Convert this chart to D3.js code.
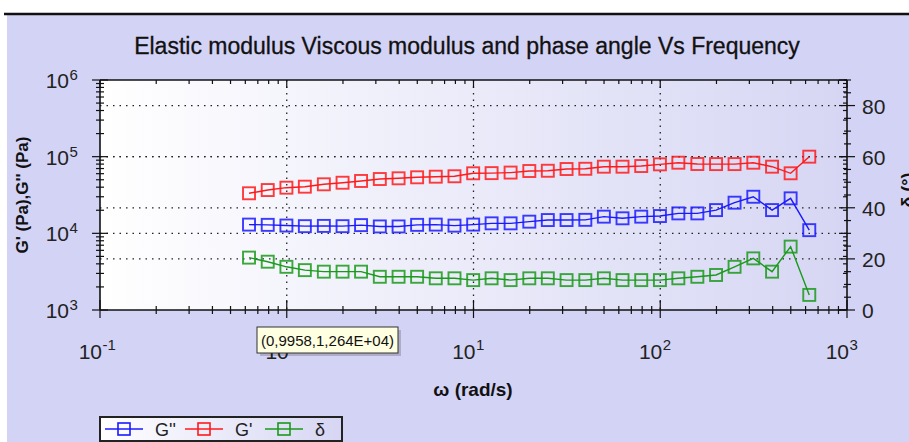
<!DOCTYPE html>
<html>
<head>
<meta charset="utf-8">
<script src="https://cdn.jsdelivr.net/npm/d3@7"></script>
<style>
  html, body { margin: 0; padding: 0; background: #fff; }
  svg { display: block; }
  .lbl { font-family: "Liberation Sans Narrow", "Liberation Sans", Arial, sans-serif; fill: #222; }
  .bold { font-family: "Liberation Sans", Arial, sans-serif; font-weight: bold; fill: #111; }
</style>
</head>
<body>
<div id="chart"></div>
<script>
// angular frequency (rad/s)
const omega = [0.628, 0.791, 0.9958, 1.25, 1.58, 1.99, 2.50, 3.15, 3.97, 4.99,
  6.28, 7.91, 9.96, 12.5, 15.8, 19.9, 25.0, 31.5, 39.7, 49.9,
  62.8, 79.1, 99.6, 125, 158, 199, 250, 315, 397, 499, 628];

// G'' viscous modulus (Pa)
const gLoss = [13000, 12900, 12640, 12400, 12500, 12400, 12800, 12300, 12300, 12900,
  13000, 12600, 13000, 13500, 13500, 14200, 14900, 14900, 15000, 16500,
  15700, 16500, 16800, 18200, 18200, 20100, 25100, 30000, 20100, 28600, 11000];

// G' elastic modulus (Pa)
const gStorage = [33300, 36700, 39400, 40600, 43600, 45700, 48200, 51100, 52200, 53800,
  54800, 55500, 60700, 61000, 62000, 65000, 65500, 69000, 69500, 74000,
  74000, 75500, 79400, 83400, 80200, 80000, 80000, 83400, 74000, 60700, 100000];

// phase angle (deg)
const delta = [20.5, 18.9, 16.9, 15.6, 15.0, 15.0, 15.0, 13.0, 13.0, 13.0,
  12.4, 12.4, 11.7, 12.4, 11.7, 12.4, 12.4, 11.7, 11.7, 12.4,
  11.7, 11.7, 11.7, 12.4, 13.0, 13.7, 16.9, 20.2, 15.0, 24.8, 5.9];

const xDecades = [-1, 0, 1, 2, 3];
const yDecades = [3, 4, 5, 6];
const rightTicks = [0, 20, 40, 60, 80];

const series = [
  { name: "G''", color: "#1a1aff", values: gLoss, axis: "left" },
  { name: "G'", color: "#ff1a1a", values: gStorage, axis: "left" },
  { name: "δ", color: "#1a9a1a", values: delta, axis: "right" }
];

const W = 909, H = 442;
const m = { top: 80, right: 62, bottom: 132, left: 100 };

const svg = d3.select("#chart").append("svg")
  .attr("width", W)
  .attr("height", H);

const defs = svg.append("defs");
const grad = defs.append("linearGradient").attr("id", "plotbg");
grad.append("stop").attr("offset", "0%").attr("stop-color", "#ffffff");
grad.append("stop").attr("offset", "100%").attr("stop-color", "#d6d6f4");

// page background
svg.append("rect").attr("x", 7).attr("y", 15).attr("width", W - 7).attr("height", H - 15)
  .attr("fill", "#d3d3f5");
svg.append("line").attr("x1", 4).attr("x2", W).attr("y1", 14).attr("y2", 14)
  .attr("stroke", "#111").attr("stroke-width", 2.5);

const x = d3.scaleLog().domain([0.1, 1000]).range([m.left, W - m.right]);
const yL = d3.scaleLog().domain([1e3, 1e6]).range([H - m.bottom, m.top]);
const yR = d3.scaleLinear().domain([0, 90]).range([H - m.bottom, m.top]);

const x0 = x.range()[0], x1 = x.range()[1];
const yb = yL.range()[0], yt = yL.range()[1];

svg.append("rect")
  .attr("x", x0).attr("y", yt)
  .attr("width", x1 - x0).attr("height", yb - yt)
  .attr("fill", "url(#plotbg)");

// title
svg.append("text")
  .attr("class", "lbl")
  .attr("x", 467).attr("y", 54)
  .attr("text-anchor", "middle")
  .style("font-family", "'Liberation Sans', Arial, sans-serif")
  .style("font-size", "23px")
  .style("fill", "#111")
  .style("stroke", "#111").style("stroke-width", 0.3)
  .text("Elastic modulus Viscous modulus and phase angle Vs Frequency");

// dotted grid
const grid = svg.append("g").attr("stroke", "#222").attr("stroke-width", 1.3)
  .attr("stroke-dasharray", "1.5,5").attr("fill", "none");

grid.selectAll(".gx").data(xDecades.slice(1, -1))
  .join("line")
  .attr("x1", d => x(Math.pow(10, d))).attr("x2", d => x(Math.pow(10, d)))
  .attr("y1", yt).attr("y2", yb);

grid.selectAll(".gyl").data(yDecades.slice(1, -1))
  .join("line")
  .attr("x1", x0).attr("x2", x1)
  .attr("y1", d => yL(Math.pow(10, d))).attr("y2", d => yL(Math.pow(10, d)));

grid.selectAll(".gyr").data(rightTicks.slice(1))
  .join("line")
  .attr("x1", x0).attr("x2", x1)
  .attr("y1", d => yR(d)).attr("y2", d => yR(d));

// ticks
function logTicks(scale) {
  const [a, b] = scale.domain();
  const out = [];
  for (let e = Math.log10(a); e < Math.log10(b); e++) {
    for (let k = 1; k < 10; k++) out.push({ v: k * Math.pow(10, e), major: k === 1 });
  }
  out.push({ v: b, major: true });
  return out;
}

const axes = svg.append("g").attr("stroke", "#111").attr("fill", "none");

// frame lines
axes.append("line").attr("x1", x0).attr("x2", x1).attr("y1", yb).attr("y2", yb).attr("stroke-width", 1.6);
axes.append("line").attr("x1", x0).attr("x2", x1).attr("y1", yt).attr("y2", yt).attr("stroke-width", 1.6);
axes.append("line").attr("x1", x0).attr("x2", x0).attr("y1", yt).attr("y2", yb).attr("stroke-width", 1.6);
axes.append("line").attr("x1", x1).attr("x2", x1).attr("y1", yt).attr("y2", yb).attr("stroke-width", 1.6);

const xt = logTicks(x);
axes.selectAll(".tb").data(xt).join("line")
  .attr("x1", d => x(d.v)).attr("x2", d => x(d.v))
  .attr("y1", d => yb - (d.major ? 10 : 4)).attr("y2", d => yb + (d.major ? 8 : 4))
  .attr("stroke-width", 1.2);
axes.selectAll(".tt").data(xt).join("line")
  .attr("x1", d => x(d.v)).attr("x2", d => x(d.v))
  .attr("y1", yt).attr("y2", d => yt + (d.major ? 8 : 4))
  .attr("stroke-width", 1.2);

const ytk = logTicks(yL);
axes.selectAll(".tl").data(ytk).join("line")
  .attr("x1", d => x0 - (d.major ? 8 : 4)).attr("x2", d => x0 + (d.major ? 8 : 4))
  .attr("y1", d => yL(d.v)).attr("y2", d => yL(d.v))
  .attr("stroke-width", 1.2);
axes.selectAll(".tr").data(ytk).join("line")
  .attr("x1", d => x1 - (d.major ? 8 : 4)).attr("x2", x1)
  .attr("y1", d => yL(d.v)).attr("y2", d => yL(d.v))
  .attr("stroke-width", 1.2);

const rMinor = d3.range(0, 91, 5);
axes.selectAll(".tr2").data(rMinor).join("line")
  .attr("x1", d => x1 - (d % 20 === 0 ? 8 : 3)).attr("x2", d => x1 + (d % 20 === 0 ? 8 : 4))
  .attr("y1", d => yR(d)).attr("y2", d => yR(d))
  .attr("stroke-width", 1.2);

// tick labels
function powLabel(g, ax, ay, e, baseSize, expSize, expDy) {
  const t = g.append("text").attr("class", "lbl").style("font-size", baseSize + "px");
  t.append("tspan").attr("x", ax).attr("y", ay).attr("text-anchor", "end").text("10");
  g.append("text").attr("class", "lbl")
    .attr("x", ax + 0.5).attr("y", ay + expDy)
    .style("font-size", expSize + "px")
    .text(e);
}

const labels = svg.append("g");
xDecades.forEach(e => powLabel(labels, x(Math.pow(10, e)) + 2, 359, e, 21, 15, -9));
yDecades.forEach(e => powLabel(labels, 69, yL(Math.pow(10, e)) + 8, e, 21, 15, -8));

labels.selectAll(".rl").data(rightTicks).join("text")
  .attr("class", "lbl")
  .attr("x", 862).attr("y", d => yR(d) + 8)
  .style("font-size", "21px")
  .text(d => d);

// axis titles
labels.append("text").attr("class", "bold")
  .attr("x", 473).attr("y", 396)
  .attr("text-anchor", "middle")
  .style("font-size", "19px")
  .text("ω (rad/s)");

labels.append("text").attr("class", "bold")
  .attr("transform", "translate(28,195) rotate(-90)")
  .attr("text-anchor", "middle")
  .style("font-size", "17px")
  .text("G' (Pa),G'' (Pa)");

labels.append("text").attr("class", "bold")
  .attr("transform", "translate(914,190) rotate(-90)")
  .attr("text-anchor", "middle")
  .style("font-size", "18px")
  .text("δ (°)");

// series
const plot = svg.append("g");
series.forEach(s => {
  const y = s.axis === "left" ? yL : yR;
  const pts = omega.map((w, i) => [x(w), y(s.values[i])]);
  const g = plot.append("g").attr("stroke", s.color).attr("fill", "none");
  g.append("path")
    .attr("d", d3.line()(pts))
    .attr("stroke-width", 1.4);
  g.selectAll("rect").data(pts).join("rect")
    .attr("x", d => d[0] - 6).attr("y", d => d[1] - 6)
    .attr("width", 12).attr("height", 12)
    .attr("stroke-width", 1.9)
    .attr("stroke-opacity", 0.85);
});

// tooltip
const tip = svg.append("g").attr("transform", "translate(257,327)");
tip.append("rect").attr("x", 3).attr("y", 3).attr("width", 141).attr("height", 26)
  .attr("fill", "#000").attr("opacity", 0.18);
tip.append("rect").attr("width", 141).attr("height", 26)
  .attr("fill", "#ffffe1").attr("stroke", "#333").attr("stroke-width", 1);
tip.append("text").attr("class", "lbl")
  .attr("x", 70.5).attr("y", 18.5)
  .attr("text-anchor", "middle")
  .style("font-family", "'Liberation Sans', Arial, sans-serif")
  .style("font-size", "15px")
  .style("fill", "#111")
  .text("(" + "0,9958" + "," + "1,264E+04" + ")");

// legend
const leg = svg.append("g").attr("transform", "translate(100,417)");
leg.append("rect").attr("width", 242).attr("height", 24)
  .attr("fill", "url(#plotbg)").attr("stroke", "#222").attr("stroke-width", 2);
series.forEach((s, i) => {
  const g = leg.append("g").attr("transform", `translate(${5 + i * 80},12)`);
  g.append("line").attr("x1", 0).attr("x2", 38).attr("stroke", s.color).attr("stroke-width", 1.4);
  g.append("rect").attr("x", 13).attr("y", -6).attr("width", 12).attr("height", 12)
    .attr("fill", "none").attr("stroke", s.color).attr("stroke-width", 1.6);
  g.append("text").attr("class", "lbl")
    .attr("x", 50).attr("y", 7)
    .style("font-size", "18px")
    .text(s.name);
});
</script>
</body>
</html>
